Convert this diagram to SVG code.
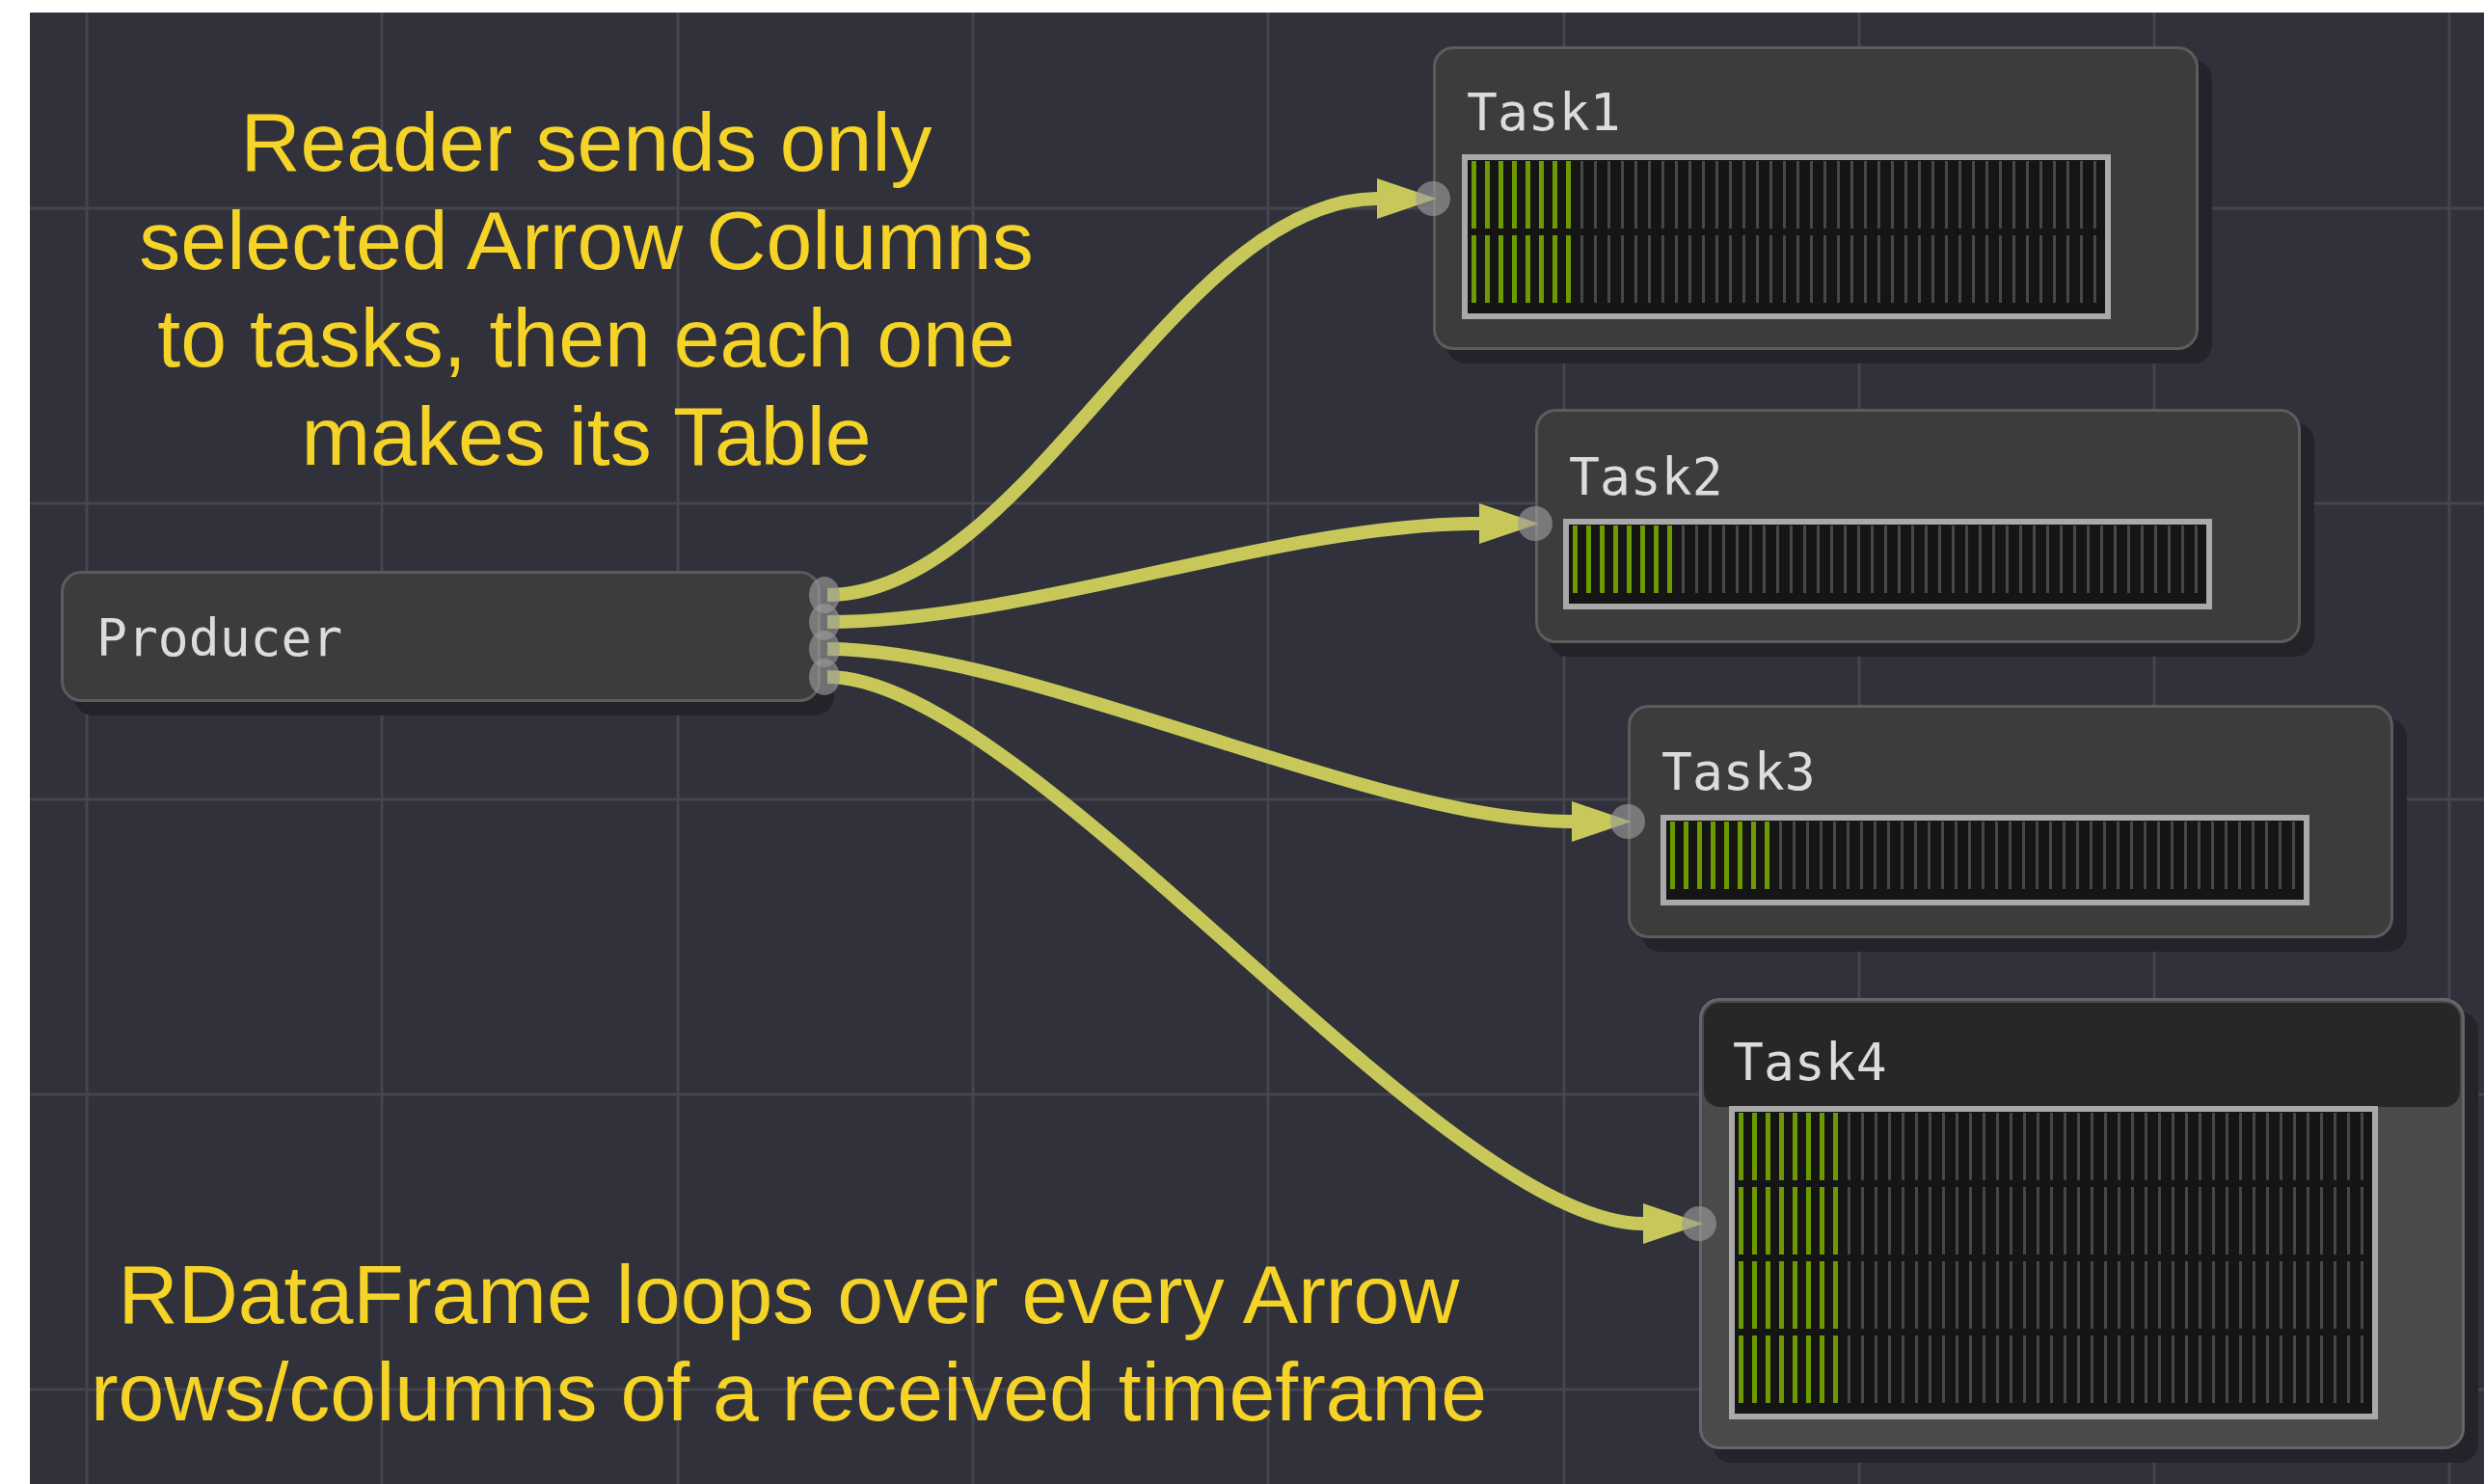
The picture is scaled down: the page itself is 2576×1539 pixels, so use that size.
<svg xmlns="http://www.w3.org/2000/svg" width="2576" height="1539" viewBox="0 0 2576 1539">
<defs>
<style>
.bg{fill:#31313b}
.grid{stroke:#45454e;stroke-width:3;fill:none}
.shadow{fill:#232329}
.node{fill:#3c3c3c;stroke:#5c5c5c;stroke-width:3}
.title{font-family:"DejaVu Sans Mono","Liberation Mono",monospace;font-size:53px;fill:#dcdcdc}
.frame{fill:#151515;stroke:#a9a9a9;stroke-width:6}
.link{fill:none;stroke:#c8c85a;stroke-width:14;marker-end:url(#arrow)}
.port{fill:#9a9a9a;fill-opacity:0.65}
.note{font-family:"Liberation Sans",Arial,sans-serif;font-size:86px;fill:#f5d327;text-anchor:middle}
</style>
<marker id="arrow" markerUnits="userSpaceOnUse" viewBox="0 0 62 42" markerWidth="62" markerHeight="42" refX="0" refY="21" orient="auto">
<path d="M0,0 L62,21 L0,42 Z" fill="#c8c85a"/>
</marker>
<pattern id="gbar" patternUnits="userSpaceOnUse" x="10" y="7" width="14" height="77">
<rect x="1" y="0" width="3" height="70" fill="#474747"/>
</pattern>
<pattern id="vbar" patternUnits="userSpaceOnUse" x="10" y="7" width="14" height="77">
<rect x="0" y="0" width="5" height="70" fill="#6c9a00"/>
</pattern>
</defs>

<rect x="0" y="0" width="2576" height="1539" fill="#ffffff"/>
<rect class="bg" x="31" y="13" width="2545" height="1526"/>

<g id="grid" class="grid">
<path d="M90,13V1539M396,13V1539M703,13V1539M1009,13V1539M1315,13V1539M1622,13V1539M1928,13V1539M2234,13V1539M2540,13V1539"/>
<path d="M31,216H2576M31,522H2576M31,829H2576M31,1135H2576M31,1441H2576"/>
</g>

<g id="node-producer">
<rect class="shadow" x="77" y="606" width="788" height="136" rx="20"/>
<rect class="node" x="64.5" y="593.5" width="785" height="133" rx="20"/>
<text class="title" x="100" y="680">Producer</text>
</g>

<g id="node-task1">
<rect class="shadow" x="1500" y="62" width="794" height="315" rx="20"/>
<rect class="node" x="1487.5" y="49.5" width="791" height="312" rx="20"/>
<text class="title" x="1521" y="135">Task1</text>
<g transform="translate(1516,160)">
<rect class="frame" x="3" y="3" width="667" height="165"/>
<rect x="10" y="7" width="112" height="147" fill="url(#vbar)"/>
<rect x="122" y="7" width="538" height="147" fill="url(#gbar)"/>
</g>
</g>

<g id="node-task2">
<rect class="shadow" x="1606" y="438" width="794" height="243" rx="20"/>
<rect class="node" x="1593.5" y="425.5" width="791" height="240" rx="20"/>
<text class="title" x="1627" y="513">Task2</text>
<g transform="translate(1621,538)">
<rect class="frame" x="3" y="3" width="667" height="88"/>
<rect x="10" y="7" width="112" height="70" fill="url(#vbar)"/>
<rect x="122" y="7" width="538" height="70" fill="url(#gbar)"/>
</g>
</g>

<g id="node-task3">
<rect class="shadow" x="1702" y="745" width="794" height="242" rx="20"/>
<rect class="node" x="1689.5" y="732.5" width="791" height="239" rx="20"/>
<text class="title" x="1723" y="819">Task3</text>
<g transform="translate(1722,845)">
<rect class="frame" x="3" y="3" width="667" height="88"/>
<rect x="10" y="7" width="112" height="70" fill="url(#vbar)"/>
<rect x="122" y="7" width="538" height="70" fill="url(#gbar)"/>
</g>
</g>

<g id="node-task4">
<rect class="shadow" x="1776" y="1049" width="794" height="468" rx="20"/>
<rect x="1763.5" y="1036.5" width="791" height="465" rx="20" fill="#4a4a4a" stroke="#666666" stroke-width="3"/>
<rect x="1767" y="1040" width="784" height="108" rx="16" fill="#272727"/>
<text class="title" x="1797" y="1120">Task4</text>
<g transform="translate(1793,1147)">
<rect class="frame" x="3" y="3" width="667" height="319"/>
<rect x="10" y="7" width="112" height="301" fill="url(#vbar)"/>
<rect x="122" y="7" width="538" height="301" fill="url(#gbar)"/>
</g>
</g>

<g id="connectors">
<path class="link" d="M858,617 C1066,617 1220,206 1428,206"/>
<path class="link" d="M858,645 C1066,645 1326,543 1534,543"/>
<path class="link" d="M858,673 C1066,673 1422,852 1630,852"/>
<path class="link" d="M858,702 C1066,702 1496,1269 1704,1269"/>
</g>

<g id="ports">
<ellipse class="port" cx="855" cy="617" rx="16" ry="19"/>
<ellipse class="port" cx="855" cy="645" rx="16" ry="19"/>
<ellipse class="port" cx="855" cy="673" rx="16" ry="19"/>
<ellipse class="port" cx="855" cy="702" rx="16" ry="19"/>
<circle class="port" cx="1486" cy="206" r="18"/>
<circle class="port" cx="1592" cy="543" r="18"/>
<circle class="port" cx="1688" cy="852" r="18"/>
<circle class="port" cx="1762" cy="1269" r="18"/>
</g>

<g id="note-top">
<text class="note" x="608" y="177">Reader sends only</text>
<text class="note" x="608" y="279">selected Arrow Columns</text>
<text class="note" x="608" y="380">to tasks, then each one</text>
<text class="note" x="608" y="482">makes its Table</text>
</g>

<g id="note-bottom">
<text class="note" x="818" y="1372">RDataFrame loops over every Arrow</text>
<text class="note" x="818" y="1473">rows/columns of a received timeframe</text>
</g>
</svg>
